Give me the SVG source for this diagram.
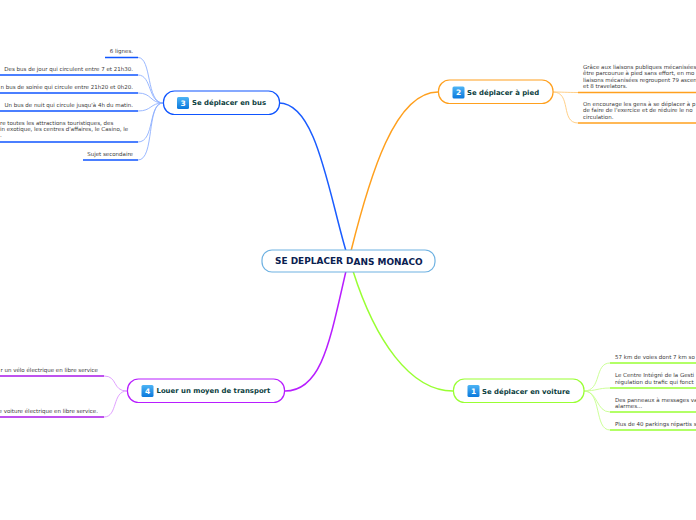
<svg xmlns="http://www.w3.org/2000/svg" width="696" height="520" viewBox="0 0 696 520">
<defs>
<linearGradient id="ic" x1="0" y1="0" x2="0" y2="1"><stop offset="0" stop-color="#4db4f5"/><stop offset="1" stop-color="#0a78dc"/></linearGradient>
</defs>
<style>
text{font-family:"DejaVu Sans",Verdana,sans-serif}
.t{font-size:5.5px;fill:#3a3a3a}
.e{text-anchor:end}
.n{font-size:6.9px;font-weight:bold;fill:#0b4040}
.i{font-size:7.5px;font-weight:bold;fill:#fff;text-anchor:middle}
.box{fill:#fff;stroke-width:1.2}
.main{fill:none;stroke-width:1.5}
.sub{fill:none;stroke-width:.9}
.ul{fill:none;stroke-width:1.6}
.ib{fill:url(#ic)}
</style>
<rect width="696" height="520" fill="#fff"/>
<g id="connectors">
<path class="main" stroke="#1a5cff" d="M279 103C316 103 328 190 346 251"/>
<path class="main" stroke="#ffa01e" d="M438 92C395 92 370 175 351 251"/>
<path class="main" stroke="#99ff33" d="M353 271C375 340 410 391 453 391"/>
<path class="main" stroke="#b81eff" d="M346 271C330 340 322 391 285 391"/>
<g stroke="#8fb0ff">
<path class="sub" d="M163 103C146 103 152 57.500 138 57.500"/>
<path class="sub" d="M163 103C148 103 152 75 138 75"/>
<path class="sub" d="M163 103C150 103 152 93 138 93"/>
<path class="sub" d="M163 103C150 103 152 111 138 111"/>
<path class="sub" d="M163 103C148 103 155 142 138 142"/>
<path class="sub" d="M163 103C146 103 155 160 138 160"/>
</g>
<g stroke="#ffc97a">
<path class="sub" d="M553 92C562 92 566 92.500 578 92.500"/>
<path class="sub" d="M553 92C572 92 560 123 578 123"/>
</g>
<g stroke="#c6ff8c">
<path class="sub" d="M584 391C602 391 594 363 610 363"/>
<path class="sub" d="M584 391C596 391 598 388 610 388"/>
<path class="sub" d="M584 391C598 391 596 412 610 412"/>
<path class="sub" d="M584 391C602 391 594 430 610 430"/>
</g>
<g stroke="#dc96ff">
<path class="sub" d="M127 391C112 391 118 376 104 376"/>
<path class="sub" d="M127 391C112 391 118 417 104 417"/>
</g>
</g>
<g id="bus-leaves">
<g id="b1"><text class="t e" x="133" y="53">6 lignes.</text><path class="ul" stroke="#0f55ff" d="M105 57.500H138"/></g>
<g id="b2"><text class="t e" x="133" y="71">Des bus de jour qui circulent entre 7 et 21h30.</text><path class="ul" stroke="#0f55ff" d="M0 75H138"/></g>
<g id="b3"><text class="t e" x="133" y="89">n bus de soirée qui circule entre 21h20 et 0h20.</text><path class="ul" stroke="#0f55ff" d="M0 93H138"/></g>
<g id="b4"><text class="t e" x="133" y="107">Un bus de nuit qui circule jusqu'à 4h du matin.</text><path class="ul" stroke="#0f55ff" d="M0 111H138"/></g>
<g id="b5"><text class="t" x="0" y="125">re toutes les attractions touristiques, des</text><text class="t" x="0" y="131">in exotique, les centres d'affaires, le Casino, le</text><text class="t" x="0" y="137">.</text><path class="ul" stroke="#0f55ff" d="M0 142H138"/></g>
<g id="b6"><text class="t e" x="133" y="156">Sujet secondaire</text><path class="ul" stroke="#0f55ff" d="M83 160H138"/></g>
</g>
<g id="pied-leaves">
<g id="p1"><text class="t" x="583" y="68.500">Grâce aux liaisons publiques mécanisées</text><text class="t" x="583" y="75">être parcourue à pied sans effort, en mo</text><text class="t" x="583" y="81.500">liaisons mécanisées regroupent 79 ascen</text><text class="t" x="583" y="88">et 8 travelators.</text><path class="ul" stroke="#ffa01e" d="M578 92.500H696"/></g>
<g id="p2"><text class="t" x="583" y="105.500">On encourage les gens à  se déplacer à p</text><text class="t" x="583" y="112">de faire de l'exercice et de réduire le no</text><text class="t" x="583" y="118.500">circulation.</text><path class="ul" stroke="#ffa01e" d="M578 123H696"/></g>
</g>
<g id="voiture-leaves">
<g id="v1"><text class="t" x="615" y="359">57 km de voies dont 7 km so</text><path class="ul" stroke="#99ff33" d="M610 363H696"/></g>
<g id="v2"><text class="t" x="615" y="377">Le Centre Intégré de la Gesti</text><text class="t" x="615" y="384">régulation du trafic qui fonct</text><path class="ul" stroke="#99ff33" d="M610 388H696"/></g>
<g id="v3"><text class="t" x="615" y="401.500">Des panneaux à messages va</text><text class="t" x="615" y="408">alarmes...</text><path class="ul" stroke="#99ff33" d="M610 412H696"/></g>
<g id="v4"><text class="t" x="615" y="426">Plus de 40 parkings répartis s</text><path class="ul" stroke="#99ff33" d="M610 430H696"/></g>
</g>
<g id="louer-leaves">
<g id="l1"><text class="t e" x="98" y="372">r un vélo électrique en libre service</text><path class="ul" stroke="#a818e8" d="M0 376H104"/></g>
<g id="l2"><text class="t e" x="98" y="413">e voiture électrique en libre service.</text><path class="ul" stroke="#a818e8" d="M0 417H104"/></g>
</g>
<g id="central"><rect class="box" x="262" y="250" width="173" height="22" rx="10" stroke="#6fb2e2"/><text transform="translate(275 263.500) scale(1.12 1)" x="0" y="0" font-size="8" font-weight="bold" fill="#0a2050">SE DEPLACER D<tspan dy="1">ANS MONACO</tspan></text></g>
<g id="bus"><rect class="box" x="163.500" y="91" width="116" height="23.500" rx="11" stroke="#0f55ff"/><rect class="ib" x="177" y="97" width="12" height="12" rx="1.500"/><text class="i" x="183" y="105.800">3</text><text class="n" x="192" y="105">Se déplacer en bus</text></g>
<g id="pied"><rect class="box" x="438.500" y="80" width="114.500" height="23.500" rx="11" stroke="#ffa01e"/><rect class="ib" x="452.500" y="86.500" width="12" height="12" rx="1.500"/><text class="i" x="458.500" y="95.300">2</text><text class="n" x="467" y="95">Se déplacer à pied</text></g>
<g id="voiture"><rect class="box" x="453.500" y="379" width="130.500" height="23.500" rx="11" stroke="#99ff33"/><rect class="ib" x="467.500" y="385" width="12" height="12" rx="1.500"/><text class="i" x="473.500" y="393.800">1</text><text class="n" x="482" y="394">Se déplacer en voiture</text></g>
<g id="louer"><rect class="box" x="127.500" y="379" width="157" height="23.500" rx="11" stroke="#b81eff"/><rect class="ib" x="141.500" y="385" width="12" height="12" rx="1.500"/><text class="i" x="147.500" y="393.800">4</text><text class="n" x="156.500" y="393">Louer un moyen de transport</text></g>
</svg>
